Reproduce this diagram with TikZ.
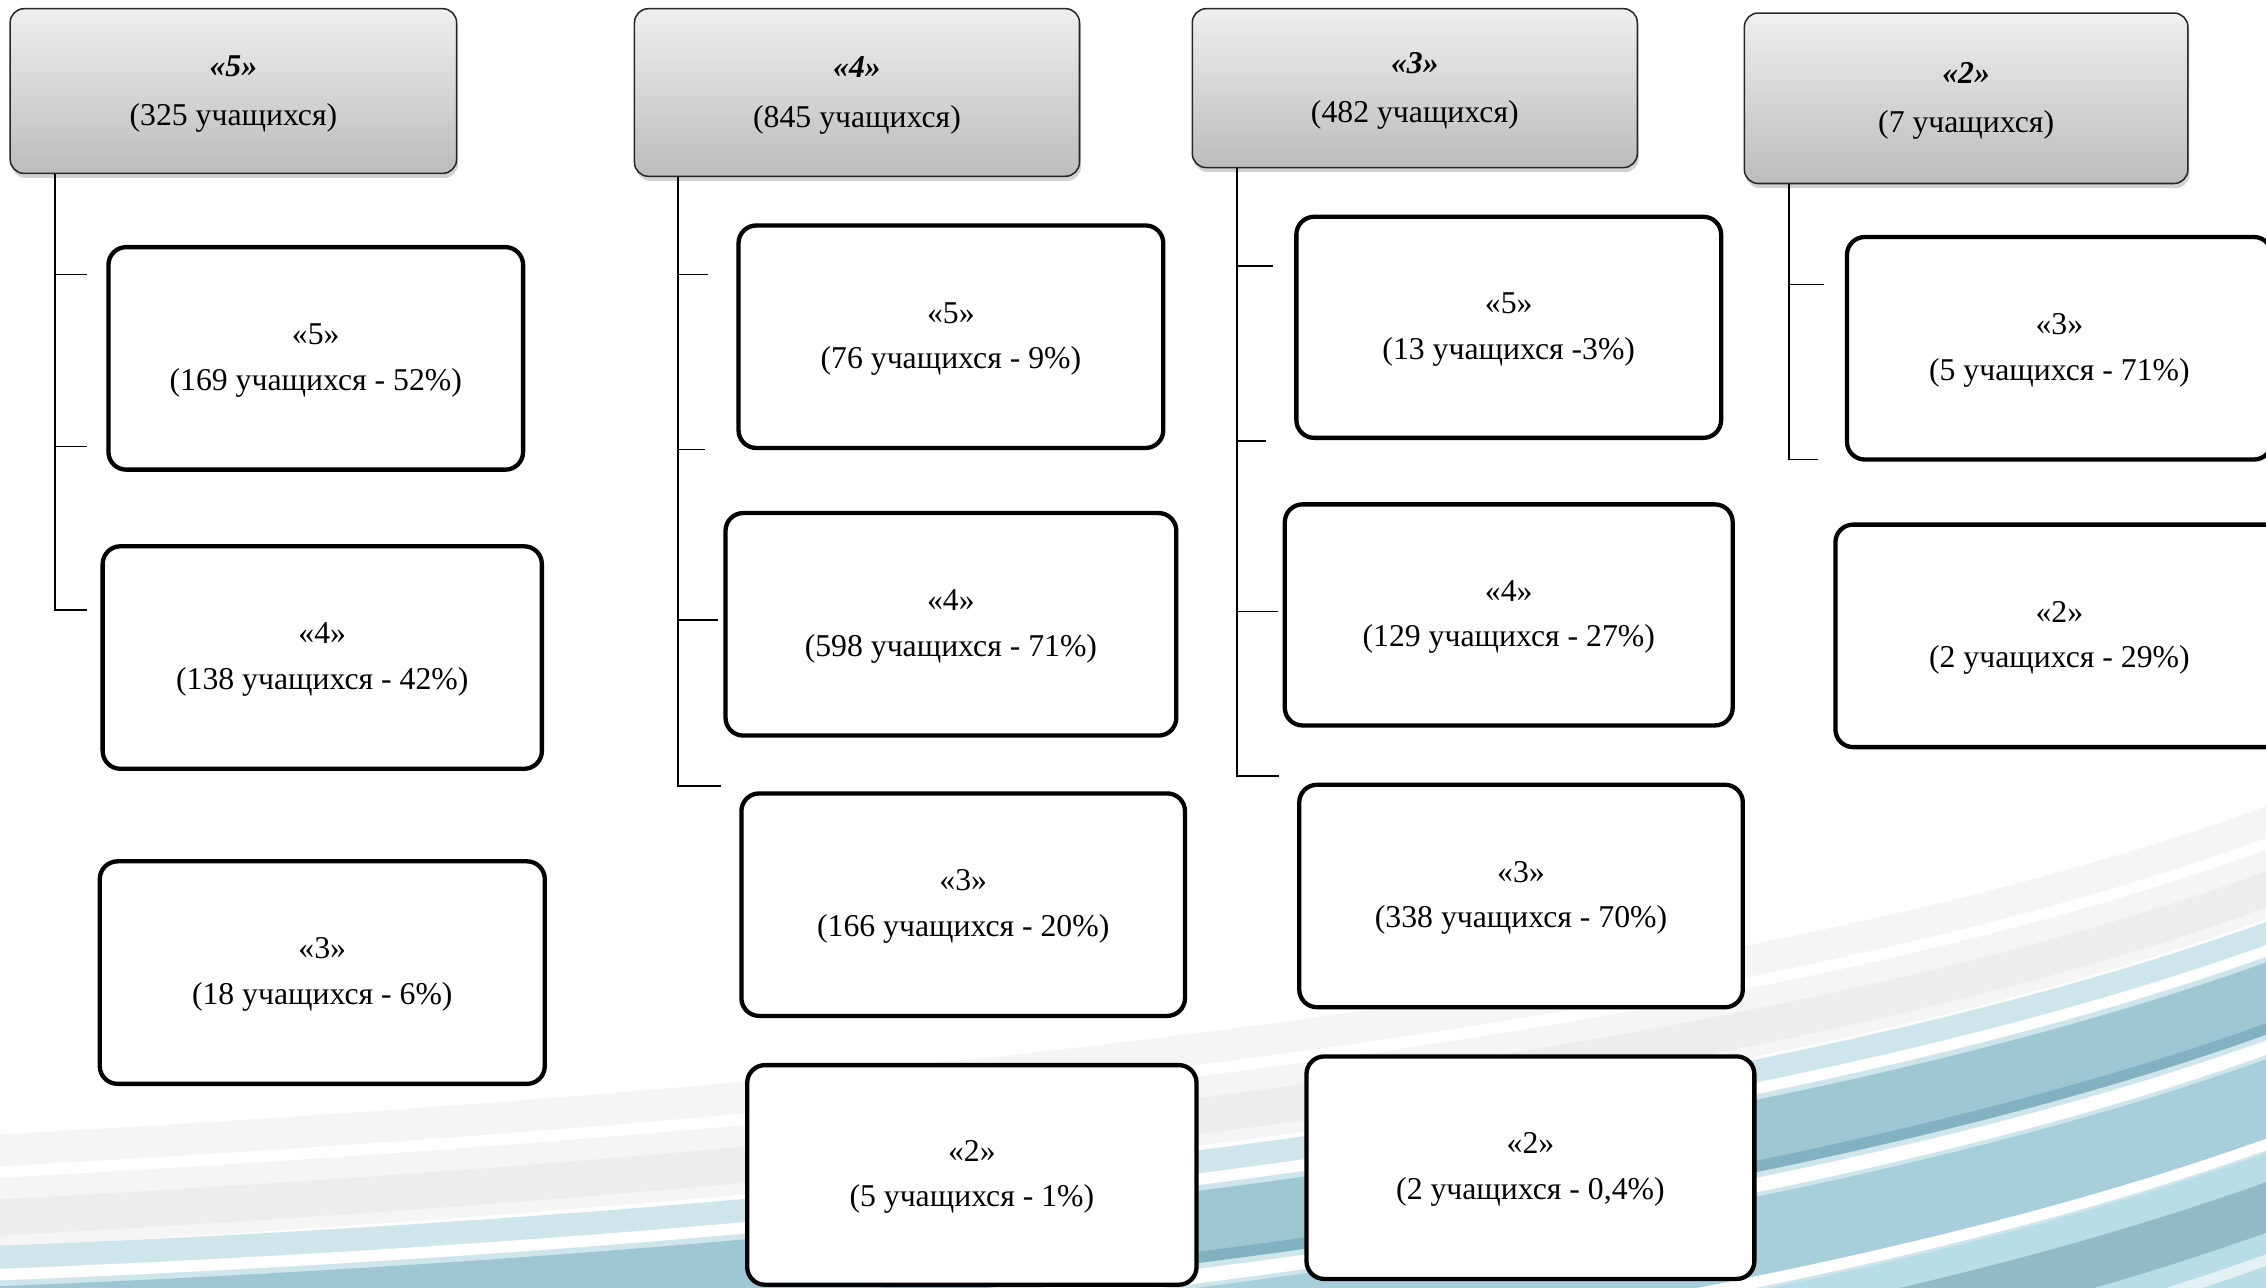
\documentclass[tikz,border=0pt]{standalone}
\usepackage{fontspec}
\setmainfont{Liberation Serif}
\usetikzlibrary{shadows,calc}
\definecolor{hdtop}{HTML}{EFEFEF}
\definecolor{hdbot}{HTML}{BCBCBC}
\definecolor{bgA}{HTML}{CFE5EC}
\definecolor{bgB}{HTML}{9FC7D3}
\definecolor{bgC}{HTML}{82B1C1}
\definecolor{bgD}{HTML}{A7CFDB}
\definecolor{bgE}{HTML}{B9DDE7}
\definecolor{bgF}{HTML}{93B9C6}
\newcommand\mybgband[3]{\fill[#3] (0,862+#1) .. controls (600,838+#1) and (1200,770+#1) .. (1568,638+#1) -- (1568,638+#2) .. controls (1200,770+#2) and (600,838+#2) .. (0,862+#2) -- cycle;}
\newcommand\mygrayband[3]{\fill[#3] (0,785+#1) .. controls (600,752+#1) and (1200,692+#1) .. (1568,558+#1) -- (1568,558+#2) .. controls (1200,692+#2) and (600,752+#2) .. (0,785+#2) -- cycle;}
\newcommand\mytwolines[2]{\raisebox{-1.8pt}{\begin{tabular}{@{}c@{}}#1\\#2\end{tabular}}}
\begin{document}
\begin{tikzpicture}[x=0.02cm,y=-0.02cm,
  hdr/.style={draw=black!85, line width=0.6pt, rounded corners=5.5pt, top color=hdtop, bottom color=hdbot,
    drop shadow={opacity=0.35,shadow xshift=0.6pt,shadow yshift=-1.8pt},
    inner sep=0pt, font=\fontsize{12.5}{19.5}\selectfont},
  kid/.style={draw=black, line width=1.7pt, rounded corners=7pt, fill=white, inner sep=0pt,
    font=\fontsize{12.5}{18}\selectfont},
  conn/.style={draw=black, line width=0.6pt}]
\useasboundingbox (0,0) rectangle (1568,891);
% background swoosh
\begin{scope}
\clip (0,0) rectangle (1568,891);
\fill[white] (0,0) rectangle (1568,891);
\mygrayband{0}{120}{black!4}
\mygrayband{22}{30}{white}
\mygrayband{45}{70}{black!7}
\mygrayband{78}{84}{white}
\mybgband{0}{260}{bgA}
\mybgband{16}{24}{white}
\mybgband{28}{70}{bgB}
\mybgband{70}{78}{bgC}
\mybgband{82}{92}{white}
\mybgband{95}{150}{bgD}
\mybgband{150}{158}{white}
\mybgband{160}{260}{bgE}
\mybgband{180}{215}{bgF}
\mybgband{230}{238}{white!60!bgE}
\end{scope}
% header boxes
\node[hdr, minimum width=6.18cm, minimum height=2.28cm] (h1) at (161.5,63) {\mytwolines{\bfseries\itshape «5»}{(325 учащихся)}};
\node[hdr, minimum width=6.16cm, minimum height=2.32cm] (h2) at (593,64) {\mytwolines{\bfseries\itshape «4»}{(845 учащихся)}};
\node[hdr, minimum width=6.16cm, minimum height=2.20cm] (h3) at (979,61) {\mytwolines{\bfseries\itshape «3»}{(482 учащихся)}};
\node[hdr, minimum width=6.14cm, minimum height=2.36cm] (h4) at (1360.5,68) {\mytwolines{\bfseries\itshape «2»}{(7 учащихся)}};
% column 1
\node[kid, minimum width=5.74cm, minimum height=3.08cm] (c1a) at (218.5,248) {\mytwolines{«5»}{(169 учащихся - 52\%)}};
\node[kid, minimum width=6.08cm, minimum height=3.08cm] (c1b) at (223,455) {\mytwolines{«4»}{(138 учащихся - 42\%)}};
\node[kid, minimum width=6.16cm, minimum height=3.08cm] (c1c) at (223,673) {\mytwolines{«3»}{(18 учащихся - 6\%)}};
% column 2
\node[kid, minimum width=5.88cm, minimum height=3.08cm] (c2a) at (658,233) {\mytwolines{«5»}{(76 учащихся - 9\%)}};
\node[kid, minimum width=6.24cm, minimum height=3.08cm] (c2b) at (658,432) {\mytwolines{«4»}{(598 учащихся - 71\%)}};
\node[kid, minimum width=6.14cm, minimum height=3.08cm] (c2c) at (666.5,626) {\mytwolines{«3»}{(166 учащихся - 20\%)}};
\node[kid, minimum width=6.22cm, minimum height=3.04cm] (c2d) at (672.5,813) {\mytwolines{«2»}{(5 учащихся - 1\%)}};
% column 3
\node[kid, minimum width=5.88cm, minimum height=3.06cm] (c3a) at (1044,226.5) {\mytwolines{«5»}{(13 учащихся -3\%)}};
\node[kid, minimum width=6.20cm, minimum height=3.06cm] (c3b) at (1044,425.5) {\mytwolines{«4»}{(129 учащихся - 27\%)}};
\node[kid, minimum width=6.14cm, minimum height=3.08cm] (c3c) at (1052.5,620) {\mytwolines{«3»}{(338 учащихся - 70\%)}};
\node[kid, minimum width=6.20cm, minimum height=3.08cm] (c3d) at (1059,808) {\mytwolines{«2»}{(2 учащихся - 0,4\%)}};
% column 4
\node[kid, minimum width=5.88cm, minimum height=3.08cm] (c4a) at (1425,241) {\mytwolines{«3»}{(5 учащихся - 71\%)}};
\node[kid, minimum width=6.20cm, minimum height=3.08cm] (c4b) at (1425,440) {\mytwolines{«2»}{(2 учащихся - 29\%)}};
% connector ends
\coordinate (r1) at (h1.south -| 38,0);
\coordinate (e1a) at (60,190);
\coordinate (e1b) at (60,309);
\coordinate (e1c) at (60,422);
\coordinate (r2) at (h2.south -| 469,0);
\coordinate (e2a) at (490,190);
\coordinate (e2b) at (488,311);
\coordinate (e2c) at (497,429);
\coordinate (e2d) at (499,544);
\coordinate (r3) at (h3.south -| 856,0);
\coordinate (e3a) at (881,184);
\coordinate (e3b) at (876,305);
\coordinate (e3c) at (884,423);
\coordinate (e3d) at (885,537);
\coordinate (r4) at (h4.south -| 1238,0);
\coordinate (e4a) at (1262,197);
\coordinate (e4b) at (1258,318);
% connectors
\draw[conn] (r1) |- (e1c);
\draw[conn] (r1 |- e1a) -- (e1a);
\draw[conn] (r1 |- e1b) -- (e1b);
\draw[conn] (r2) |- (e2d);
\draw[conn] (r2 |- e2a) -- (e2a);
\draw[conn] (r2 |- e2b) -- (e2b);
\draw[conn] (r2 |- e2c) -- (e2c);
\draw[conn] (r3) |- (e3d);
\draw[conn] (r3 |- e3a) -- (e3a);
\draw[conn] (r3 |- e3b) -- (e3b);
\draw[conn] (r3 |- e3c) -- (e3c);
\draw[conn] (r4) |- (e4b);
\draw[conn] (r4 |- e4a) -- (e4a);
\end{tikzpicture}
\end{document}
